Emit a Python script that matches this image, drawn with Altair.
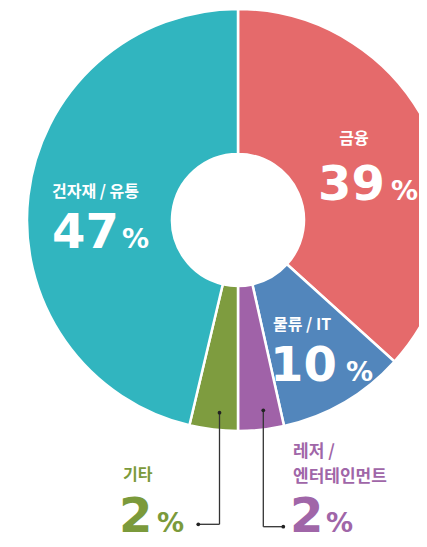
import altair as alt
import pandas as pd

# ---- data ----
categories = ["금융", "물류 / IT", "레저 / 엔터테인먼트", "기타", "건자재 / 유통"]
shares = [36.7, 9.8, 3.5, 3.7, 46.3]          # slice sizes as drawn (%)
pct_labels = ["39", "10", "2", "2", "47"]       # printed percentages
colors = ["#E56A6B", "#5286BC", "#A062A8", "#7E9C3F", "#31B5BF"]

df = pd.DataFrame({"cat": categories, "share": shares, "ord": list(range(len(categories)))})

KR = "Noto Sans CJK KR"
NUM = "DejaVu Sans"
CX, CY = 230, 212

arc = alt.Chart(df).mark_arc(
    innerRadius=66, outerRadius=211, stroke="white", strokeWidth=2.5
).encode(
    theta=alt.Theta("share:Q", stack=True),
    order=alt.Order("ord:Q"),
    color=alt.Color("cat:N", scale=alt.Scale(domain=categories, range=colors), legend=None),
    x=alt.value(CX),
    y=alt.value(CY),
)


def txt(s, x, y, size, color, font=KR, weight="bold", align="left", baseline="alphabetic"):
    return alt.Chart(pd.DataFrame({"t": [s]})).mark_text(
        align=align, baseline=baseline, fontSize=size, fontWeight=weight, color=color, font=font
    ).encode(text="t:N", x=alt.value(x), y=alt.value(y))


def rule(x1, y1, x2, y2):
    return alt.Chart(pd.DataFrame({"a": [0]})).mark_rule(color="#333333", strokeWidth=1.3).encode(
        x=alt.value(x1), y=alt.value(y1), x2=alt.value(x2), y2=alt.value(y2)
    )


def dot(x, y):
    return alt.Chart(pd.DataFrame({"a": [0]})).mark_point(
        filled=True, size=14, color="#222222", opacity=1
    ).encode(x=alt.value(x), y=alt.value(y))


W = "white"
GREEN_T = "#7B9A3B"
PURPLE_T = "#A066A8"
BIG = 48
PCT = 27

layers = [
    arc,
    # 금융
    txt(categories[0], 346, 131, 16, W, align="center", baseline="middle"),
    txt(pct_labels[0], 310, 192, BIG, W, font=NUM),
    txt("%", 383, 192, PCT, W, font=NUM),
    # 건자재 / 유통
    txt(categories[4], 44, 184, 16, W, baseline="middle"),
    txt(pct_labels[4], 44, 240, BIG, W, font=NUM),
    txt("%", 114, 240, PCT, W, font=NUM),
    # 물류 / IT
    txt(categories[1], 265, 317, 16, W, baseline="middle"),
    txt(pct_labels[1], 262, 373, BIG, W, font=NUM),
    txt("%", 338, 373, PCT, W, font=NUM),
    # 기타
    txt(categories[3], 115, 467, 16, GREEN_T, baseline="middle"),
    txt(pct_labels[3], 111, 524, BIG, GREEN_T, font=NUM),
    txt("%", 149, 524, PCT, GREEN_T, font=NUM),
    # 레저 / 엔터테인먼트
    txt("레저 /", 285, 444, 17, PURPLE_T, baseline="middle"),
    txt("엔터테인먼트", 285, 469, 17, PURPLE_T, baseline="middle"),
    txt(pct_labels[2], 282, 524, BIG, PURPLE_T, font=NUM),
    txt("%", 318, 524, PCT, PURPLE_T, font=NUM),
    # connectors
    rule(211.5, 404.7, 211.5, 516.3),
    rule(211.5, 516.3, 190.3, 516.3),
    dot(211.5, 404.7),
    dot(190.3, 516.3),
    rule(255.3, 402.3, 255.3, 518.7),
    rule(255.3, 518.7, 275.3, 518.7),
    dot(255.3, 402.3),
    dot(275.3, 518.7),
]

chart = alt.layer(*layers).properties(
    width=411, height=531, padding=0, autosize=alt.AutoSizeParams(type="none")
).configure_view(stroke=None)

chart.save("out.html", embed_options={"renderer": "svg", "actions": False})
